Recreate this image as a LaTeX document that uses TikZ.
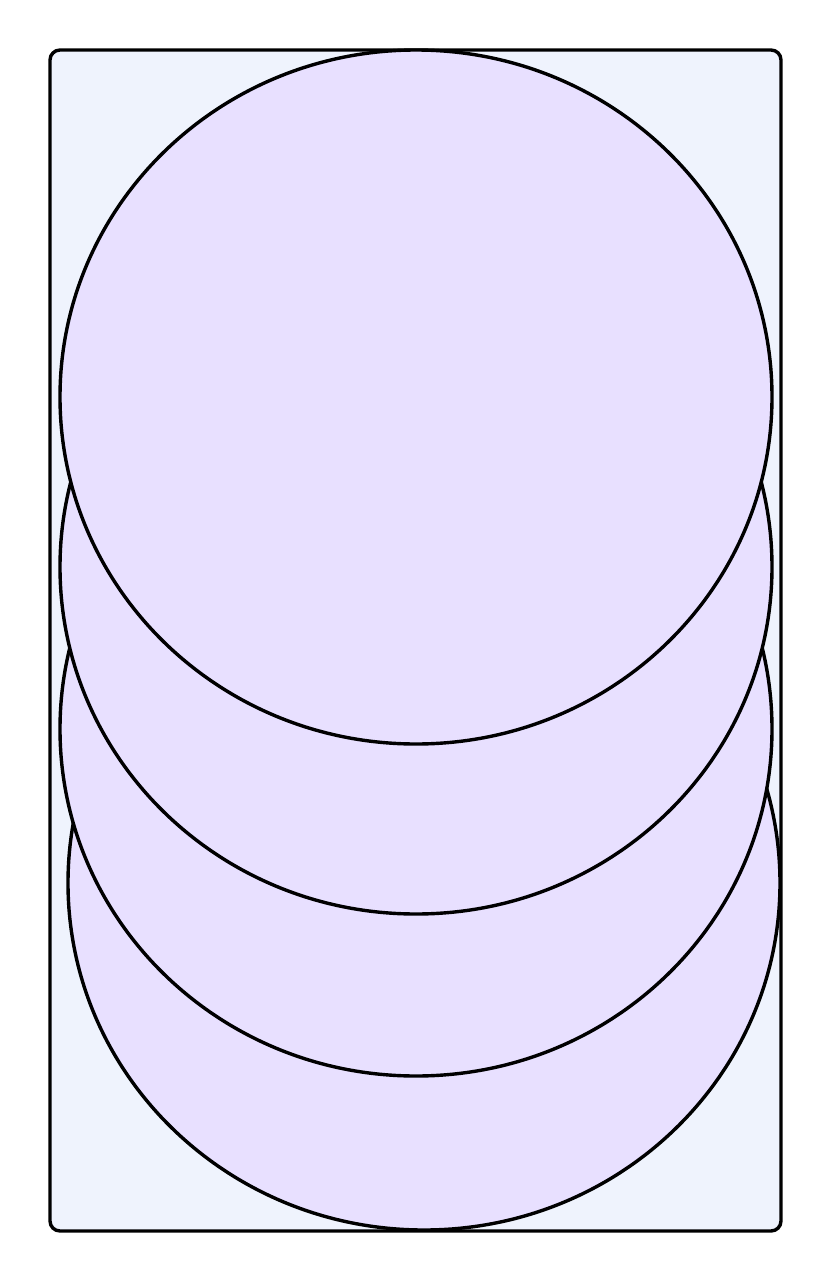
\documentclass[tikz,border=0pt]{standalone}
\usepackage{tikz}
\usepackage{xcolor}
\definecolor{boxfill}{RGB}{239,243,253}
\definecolor{lilac}{RGB}{232,224,255}

\begin{document}
\begin{tikzpicture}[x=1pt, y=-1pt, line width=3.4pt,
    disc/.style={draw=black, fill=lilac}]
  %% Canvas
  \useasboundingbox (0,0) rectangle (832,1282);

  %% Outer box
  \draw[fill=boxfill, rounded corners=10pt] (50,50) rectangle (781,1231);

  %% Stacked discs, lowest one first
  \draw[disc] (424,883) ellipse (356pt and 347pt);
  \draw[disc] (416,729) ellipse (356pt and 347pt);
  \draw[disc] (416,567) ellipse (356pt and 347pt);
  \draw[disc] (416,397) ellipse (356pt and 347pt);

\end{tikzpicture}
\end{document}
